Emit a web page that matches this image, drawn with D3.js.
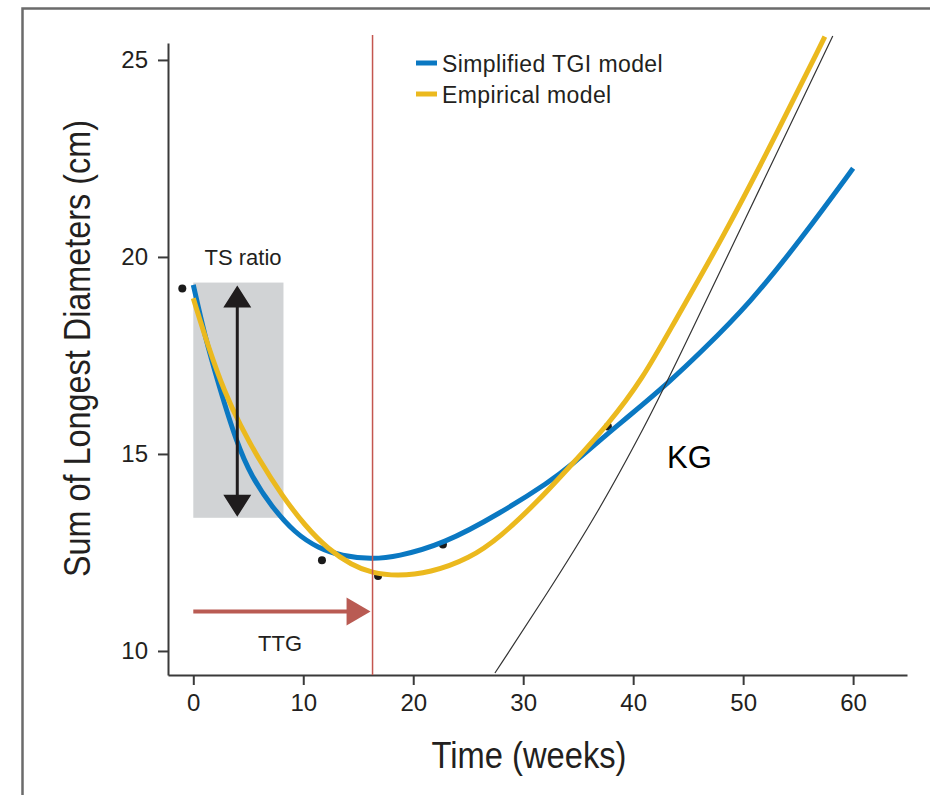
<!DOCTYPE html>
<html>
<head>
<meta charset="utf-8">
<script src="https://cdn.jsdelivr.net/npm/d3@7/dist/d3.min.js"></script>
<style>
  body { margin: 0; background: #fff; }
  svg { display: block; font-family: "Liberation Sans", Arial, sans-serif; }
</style>
</head>
<body>
<div class="main"></div>
<script>
// tick values
const weekTicks = [0, 10, 20, 30, 40, 50, 60];
const sldTicks = [10, 15, 20, 25];

// observed sum of longest diameters (cm)
const obsWeeks = [-1, 11.7, 16.8, 22.7, 37.7];
const obsSld = [19.2, 12.3, 11.9, 12.7, 15.7];

// simplified TGI model fit
const tgiWeeks = [0, 1.06, 2.27, 3.95, 5.31, 7.13, 9.25, 11.36, 13.49, 16.22, 18.49, 22.73, 27.88, 32.43, 34.3, 37.73, 39.4, 43.5, 46.06, 50.61, 55.45, 60];
const tgiSld = [19.29, 17.98, 16.79, 15.27, 14.42, 13.66, 12.99, 12.61, 12.41, 12.33, 12.39, 12.71, 13.49, 14.3, 14.7, 15.53, 15.91, 16.88, 17.56, 18.82, 20.52, 22.25];

// empirical model fit
const empWeeks = [0, 1.36, 2.88, 4.25, 5.91, 8.13, 10.15, 12.27, 14.4, 16.22, 18.49, 21.52, 25.15, 27.88, 31.52, 34.3, 37.73, 40.85, 43.64, 48.18, 52.73, 57.43];
const empSld = [18.95, 17.72, 16.54, 15.74, 14.88, 13.92, 13.18, 12.58, 12.18, 11.98, 11.9, 11.98, 12.35, 12.88, 13.85, 14.7, 15.75, 16.9, 18.3, 20.5, 22.95, 25.59];

// KG growth line
const kgWeeks = [27.43, 31.79, 36.97, 41.34, 43.15, 58.15];
const kgSld = [9.44, 11.29, 13.58, 15.86, 16.85, 25.61];

// annotations
const ttgWeek = 16.3;
const ttgArrowSld = 11.0;
const tsBoxWeeks = [0, 8.2];
const tsBoxSld = [13.38, 19.35];
const tsArrowWeek = 4.0;

const legendNames = ["Simplified TGI model", "Empirical model"];
const colors = ["#0a78c2", "#ebb91e"];

const fullwidth = 930, fullheight = 795;
const svg = d3.select(".main")
  .append("svg")
  .attr("width", fullwidth)
  .attr("height", fullheight);

// frame
svg.append("path")
  .attr("d", "M22.5,795V8.5H930")
  .attr("fill", "none")
  .attr("stroke", "#6b6b6b")
  .attr("stroke-width", 2.5);

// scales
const x = d3.scaleLinear().domain([-2.3, 64.9]).range([168, 907]);
const y = d3.scaleLinear().domain([9.39, 25.43]).range([675, 43]);

const textColor = "#231f20";

// axes
const xAxis = svg.append("g")
  .attr("transform", "translate(0," + y.range()[0] + ")")
  .call(d3.axisBottom(x).tickValues(weekTicks).tickSize(10).tickSizeOuter(0).tickPadding(9));

const yAxis = svg.append("g")
  .attr("transform", "translate(" + x.range()[0] + ",0)")
  .call(d3.axisLeft(y).tickValues(sldTicks).tickSize(10).tickSizeOuter(0).tickPadding(10));

[xAxis, yAxis].forEach(g => {
  g.attr("font-family", null).attr("font-size", null);
  g.select(".domain").attr("stroke", "#3a3a3a").attr("stroke-width", 2);
  g.selectAll(".tick line").attr("stroke", "#3a3a3a").attr("stroke-width", 2);
  g.selectAll(".tick text")
    .attr("fill", textColor)
    .style("font-size", "24px");
});

// axis titles
svg.append("text")
  .attr("x", 529)
  .attr("y", 768)
  .attr("text-anchor", "middle")
  .attr("fill", textColor)
  .attr("textLength", 195)
  .attr("lengthAdjust", "spacingAndGlyphs")
  .style("font-size", "36px")
  .text("Time (weeks)");

svg.append("text")
  .attr("transform", "translate(90,348.5) rotate(-90)")
  .attr("text-anchor", "middle")
  .attr("fill", textColor)
  .attr("textLength", 457)
  .attr("lengthAdjust", "spacingAndGlyphs")
  .style("font-size", "36px")
  .text("Sum of Longest Diameters (cm)");

// TS ratio box
svg.append("rect")
  .attr("x", x(tsBoxWeeks[0]))
  .attr("y", y(tsBoxSld[1]))
  .attr("width", x(tsBoxWeeks[1]) - x(tsBoxWeeks[0]))
  .attr("height", y(tsBoxSld[0]) - y(tsBoxSld[1]))
  .attr("fill", "#d1d3d5");

// observed points
svg.append("g")
  .selectAll("circle")
  .data(obsWeeks)
  .join("circle")
  .attr("cx", d => x(d))
  .attr("cy", (d, i) => y(obsSld[i]))
  .attr("r", 4)
  .attr("fill", "#1a1a1a");

// model curves (basis curve smooths the read-off points)
const line = d3.line()
  .x(d => x(d[0]))
  .y(d => y(d[1]))
  .curve(d3.curveBasis);

const series = [
  d3.zip(tgiWeeks, tgiSld),
  d3.zip(empWeeks, empSld)
];

svg.append("g")
  .selectAll("path")
  .data(series)
  .join("path")
  .attr("fill", "none")
  .attr("stroke", (d, i) => colors[i])
  .attr("stroke-width", 5)
  .attr("d", line);

// KG line
svg.append("path")
  .datum(d3.zip(kgWeeks, kgSld))
  .attr("fill", "none")
  .attr("stroke", "#333")
  .attr("stroke-width", 1.2)
  .attr("d", line);

svg.append("text")
  .attr("x", 667)
  .attr("y", 468)
  .attr("fill", "#000")
  .style("font-size", "31px")
  .text("KG");

// TTG vertical line
svg.append("line")
  .attr("x1", x(ttgWeek)).attr("x2", x(ttgWeek))
  .attr("y1", 35).attr("y2", y.range()[0])
  .attr("stroke", "#c4564f")
  .attr("stroke-width", 1.5);

// TTG arrow
const ttgY = y(ttgArrowSld);
const ttgTip = x(ttgWeek) - 2;
svg.append("line")
  .attr("x1", x(0)).attr("x2", ttgTip - 20)
  .attr("y1", ttgY).attr("y2", ttgY)
  .attr("stroke", "#b95b53")
  .attr("stroke-width", 4);
svg.append("path")
  .attr("d", "M" + ttgTip + "," + ttgY + "L" + (ttgTip - 24) + "," + (ttgY - 14) + "L" + (ttgTip - 24) + "," + (ttgY + 14) + "Z")
  .attr("fill", "#b95b53");

svg.append("text")
  .attr("x", 280)
  .attr("y", 651)
  .attr("text-anchor", "middle")
  .attr("fill", textColor)
  .style("font-size", "22px")
  .text("TTG");

// TS ratio double arrow
const tsX = x(tsArrowWeek);
const tsTop = y(tsBoxSld[1]) + 3;
const tsBot = y(tsBoxSld[0]) - 1;
svg.append("line")
  .attr("x1", tsX).attr("x2", tsX)
  .attr("y1", tsTop + 18).attr("y2", tsBot - 18)
  .attr("stroke", "#1f1c1d")
  .attr("stroke-width", 3);
svg.append("path")
  .attr("d", "M" + tsX + "," + tsTop + "L" + (tsX - 14) + "," + (tsTop + 22) + "L" + (tsX + 14) + "," + (tsTop + 22) + "Z" +
    "M" + tsX + "," + tsBot + "L" + (tsX - 14) + "," + (tsBot - 22) + "L" + (tsX + 14) + "," + (tsBot - 22) + "Z")
  .attr("fill", "#1f1c1d");

svg.append("text")
  .attr("x", 243)
  .attr("y", 265)
  .attr("text-anchor", "middle")
  .attr("fill", textColor)
  .style("font-size", "22px")
  .text("TS ratio");

// legend
const legend = svg.append("g")
  .attr("transform", "translate(416,63)");
const items = legend.selectAll("g")
  .data(legendNames)
  .join("g")
  .attr("transform", (d, i) => "translate(0," + i * 31 + ")");
items.append("line")
  .attr("x1", 0).attr("x2", 21)
  .attr("stroke", (d, i) => colors[i])
  .attr("stroke-width", 5);
items.append("text")
  .attr("x", 26)
  .attr("y", 8.5)
  .attr("fill", textColor)
  .style("font-size", "23px")
  .style("letter-spacing", "0.4px")
  .text(d => d);
</script>
</body>
</html>
